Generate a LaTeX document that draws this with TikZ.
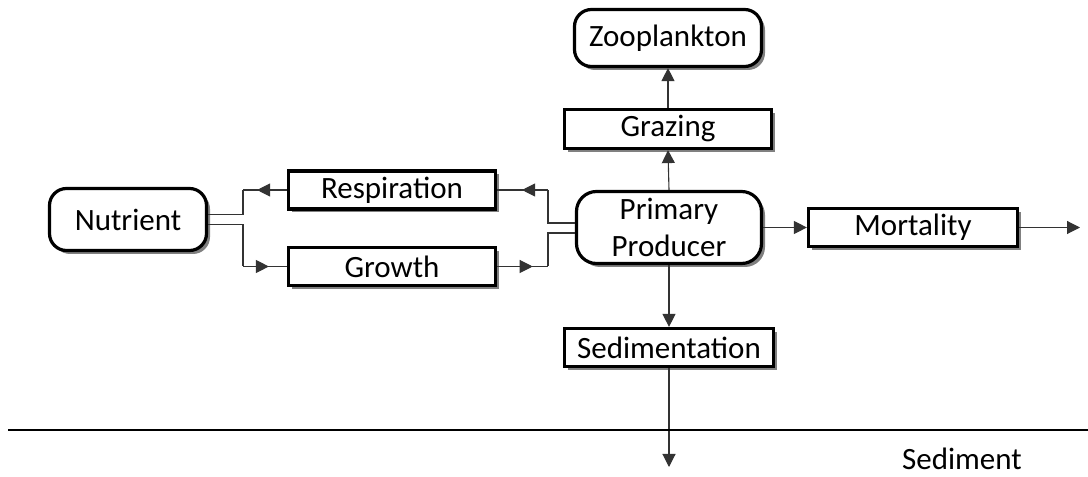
\documentclass[tikz,border=0pt]{standalone}
\usepackage{fontspec}
\setmainfont{Carlito}
\usetikzlibrary{arrows.meta,shadows,decorations.markings,calc}
\begin{document}
\begin{tikzpicture}[x=1pt,y=1pt,
  font=\fontsize{31}{37}\selectfont,
  boxshadow/.style={drop shadow={shadow xshift=3.5pt,shadow yshift=-3.5pt,fill=black!50,opacity=1}},
  procbox/.style={draw,line width=3.2pt,fill=white,boxshadow,inner sep=0pt,align=center},
  poolbox/.style={procbox,rounded corners=17pt},
  conn/.style={line width=1.1pt,draw=black!80},
  tip/.style={-{Triangle[length=13pt,width=13pt]}},
  midarrow/.style={postaction={decorate},decoration={markings,mark=at position #1 with {\arrow{Triangle[length=13pt,width=13pt]}}}}
]
\useasboundingbox (0,0) rectangle (1088,477);
% nodes
\node[poolbox,minimum width=157pt,minimum height=62pt] (nut) at (128,257.5) {Nutrient};
\node[procbox,minimum width=207pt,minimum height=38pt] (resp) at (392,287) {Respiration};
\node[procbox,minimum width=207pt,minimum height=38pt] (grow) at (392,210.5) {Growth};
\node[poolbox,rounded corners=20pt,minimum width=185pt,minimum height=72pt] (pp) at (669,249.5) {Primary\\Producer};
\node[poolbox,minimum width=187pt,minimum height=57pt] (zoo) at (668,439) {Zooplankton};
\node[procbox,minimum width=207pt,minimum height=39pt] (graz) at (668,348) {Grazing};
\node[procbox,minimum width=209pt,minimum height=38pt] (mort) at (913,249.5) {Mortality};
\node[procbox,minimum width=209pt,minimum height=38pt] (sed) at (669,129.5) {Sedimentation};
\node[inner sep=0pt,anchor=base] (sedtxt) at (962,7.5) {Sediment};
% helper coordinates
\coordinate (nutA) at ($(nut.east)+(0,5)$);
\coordinate (nutB) at ($(nut.east)+(0,-5)$);
\coordinate (ppA) at ($(pp.west)+(0,4.5)$);
\coordinate (ppB) at ($(pp.west)+(0,-5.5)$);
\coordinate (lbA) at (243,0);
\coordinate (rbA) at (548,0);
\coordinate (mortout) at (1080,249.5);
\coordinate (sedout) at (669,10);
\coordinate (gl) at (8,47);
\coordinate (gr) at (1088,47);
% connectors
\draw[conn] (nutA) -| (lbA |- resp.west);
\draw[conn,midarrow=0.68] (resp.west) -- (lbA |- resp.west);
\draw[conn] (nutB) -| (lbA |- grow.west);
\draw[conn,midarrow=0.59] (lbA |- grow.west) -- (grow.west);
\draw[conn] (ppA) -| (rbA |- resp.east);
\draw[conn,midarrow=0.51] (rbA |- resp.east) -- (resp.east);
\draw[conn] (ppB) -| (rbA |- grow.east);
\draw[conn,midarrow=0.7] (grow.east) -- (rbA |- grow.east);
\draw[conn,tip] (pp.north) -- (graz.south);
\draw[conn,tip] (graz.north) -- (zoo.south);
\draw[conn,tip] (pp.east) -- (mort.west);
\draw[conn,tip] (mort.east) -- (mortout);
\draw[conn,tip] (pp.south) -- (sed.north);
\draw[conn,tip] (sed.south) -- (sedout);
\draw[line width=2.8pt] (gl) -- (gr);
\end{tikzpicture}
\end{document}
